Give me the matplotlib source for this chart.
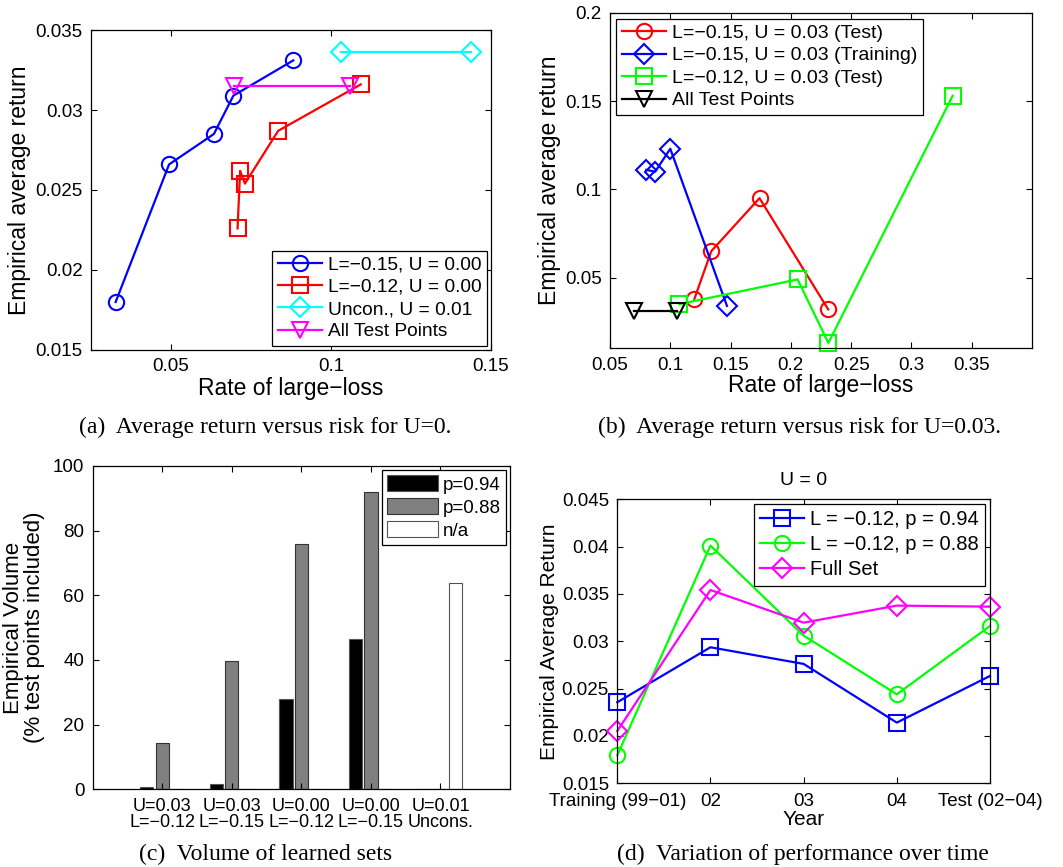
import numpy as np
import matplotlib
matplotlib.use('Agg')
import matplotlib.pyplot as plt

plt.rcParams['font.family'] = ['Liberation Sans', 'DejaVu Sans']

# ---- panel (a): U = 0
a_blue_x = [0.0327, 0.0494, 0.0634, 0.0695, 0.0882]
a_blue_y = [0.0180, 0.0266, 0.0285, 0.0309, 0.0331]
a_red_x = [0.0708, 0.0716, 0.0731, 0.0835, 0.1093]
a_red_y = [0.0226, 0.0262, 0.0254, 0.0287, 0.0316]
a_cyan_x = [0.1030, 0.1437]
a_cyan_y = [0.0336, 0.0336]
a_mag_x = [0.0698, 0.1059]
a_mag_y = [0.0315, 0.0315]
a_labels = ['L=\u22120.15, U = 0.00', 'L=\u22120.12, U = 0.00',
            'Uncon., U = 0.01', 'All Test Points']

# ---- panel (b): U = 0.03
b_red_x = [0.120, 0.134, 0.174, 0.231]
b_red_y = [0.038, 0.065, 0.095, 0.032]
b_blue_x = [0.080, 0.0875, 0.100, 0.147]
b_blue_y = [0.111, 0.110, 0.123, 0.034]
b_green_x = [0.1075, 0.2056, 0.2311, 0.3342]
b_green_y = [0.035, 0.049, 0.013, 0.153]
b_black_x = [0.070, 0.1056]
b_black_y = [0.031, 0.031]
b_labels = ['L=\u22120.15, U = 0.03 (Test)', 'L=\u22120.15, U = 0.03 (Training)',
            'L=\u22120.12, U = 0.03 (Test)', 'All Test Points']

# ---- panel (c): volume of learned sets
c_groups = ['U=0.03\nL=\u22120.12', 'U=0.03\nL=\u22120.15', 'U=0.00\nL=\u22120.12',
            'U=0.00\nL=\u22120.15', 'U=0.01\nUncons.']
c_p94 = [0.6, 1.5, 27.8, 46.5, 0]
c_p88 = [14.2, 39.7, 75.9, 92.0, 0]
c_na = [0, 0, 0, 0, 63.9]
c_labels = ['p=0.94', 'p=0.88', 'n/a']

# ---- panel (d): performance over time
d_years = ['Training (99\u221201)', '02', '03', '04', 'Test (02\u221204)']
d_p94 = [0.02356, 0.02937, 0.02761, 0.02141, 0.02634]
d_p88 = [0.01796, 0.04011, 0.0306, 0.0244, 0.03162]
d_full = [0.02053, 0.03542, 0.03197, 0.03377, 0.03366]
d_labels = ['L = \u22120.12, p = 0.94', 'L = \u22120.12, p = 0.88', 'Full Set']

W, H = 1063, 867
fig = plt.figure(figsize=(W / 100, H / 100), dpi=100)


def box(l, t, r, b):
    return [l / W, (H - b) / H, (r - l) / W, (b - t) / H]


def style(ax):
    ax.tick_params(direction='in', top=True, right=True, length=4.5,
                   width=0.8, labelsize=13.5, pad=6)
    for s in ax.spines.values():
        s.set_linewidth(0.9)


def legend(ax, loc, size, **kw):
    opts = dict(handlelength=2.3, borderpad=0.3, labelspacing=0.25, handletextpad=0.3,
                borderaxespad=0.3)
    opts.update(kw)
    leg = ax.legend(loc=loc, fontsize=size, fancybox=False, edgecolor='k',
                    framealpha=1, **opts)
    leg.get_frame().set_linewidth(0.9)
    return leg


def caption(x, y, s):
    fig.text(x / W, 1 - y / H, s, family='Liberation Serif', fontsize=17,
             ha='center', va='center')


lw, ms, mew = 1.6, 11, 1.5
kw = dict(mfc='none', lw=lw, mew=mew, clip_on=False)

# (a)
ax = fig.add_axes(box(91, 30, 491, 350))
ax.plot(a_blue_x, a_blue_y, 'o-', color='b', ms=ms, label=a_labels[0], **kw)
ax.plot(a_red_x, a_red_y, 's-', color='r', ms=ms, label=a_labels[1], **kw)
ax.plot(a_cyan_x, a_cyan_y, 'D-', color='#00ffff', ms=ms - 1, label=a_labels[2], **kw)
ax.plot(a_mag_x, a_mag_y, 'v-', color='#ff00ff', ms=ms, label=a_labels[3], **kw)
ax.set_xlim(0.025, 0.15)
ax.set_ylim(0.015, 0.035)
ax.set_xticks([0.05, 0.1, 0.15])
ax.set_xticklabels(['0.05', '0.1', '0.15'])
ax.set_yticks([0.015, 0.02, 0.025, 0.03, 0.035])
ax.set_yticklabels(['0.015', '0.02', '0.025', '0.03', '0.035'])
ax.set_xlabel('Rate of large\u2212loss', fontsize=16.5, labelpad=1)
ax.set_ylabel('Empirical average return', fontsize=16.5, labelpad=3)
style(ax)
legend(ax, 'lower right', 13.8, borderaxespad=0.2)
caption(265, 427, '(a)  Average return versus risk for U=0.')

# (b)
ax = fig.add_axes(box(610, 12.7, 1032, 348.3))
ax.plot(b_red_x, b_red_y, 'o-', color='r', ms=ms, label=b_labels[0], **kw)
ax.plot(b_blue_x, b_blue_y, 'D-', color='b', ms=ms - 1, label=b_labels[1], **kw)
ax.plot(b_green_x, b_green_y, 's-', color='#00ff00', ms=ms, label=b_labels[2], **kw)
ax.plot(b_black_x, b_black_y, 'v-', color='k', ms=ms, label=b_labels[3], **kw)
ax.set_xlim(0.05, 0.4)
ax.set_ylim(0.01, 0.2)
ax.set_xticks([0.05, 0.1, 0.15, 0.2, 0.25, 0.3, 0.35])
ax.set_xticklabels(['0.05', '0.1', '0.15', '0.2', '0.25', '0.3', '0.35'])
ax.set_yticks([0.05, 0.1, 0.15, 0.2])
ax.set_yticklabels(['0.05', '0.1', '0.15', '0.2'])
ax.set_xlabel('Rate of large\u2212loss', fontsize=16.5, labelpad=0)
ax.set_ylabel('Empirical average return', fontsize=16.5, labelpad=3)
style(ax)
legend(ax, 'upper left', 14)
caption(800, 427, '(b)  Average return versus risk for U=0.03.')

# (c)
ax = fig.add_axes(box(92.7, 466, 510, 789.3))
xpos = np.arange(1, len(c_groups) + 1)
bw = 0.19
ax.bar(xpos - 0.222, c_p94, bw, color='k', edgecolor='#555555', lw=0.8, label=c_labels[0])
ax.bar(xpos, c_p88, bw, color='#808080', edgecolor='#333333', lw=0.8, label=c_labels[1])
ax.bar(xpos + 0.222, c_na, bw, color='w', edgecolor='#555555', lw=0.8, label=c_labels[2])
ax.set_xlim(0, 6)
ax.set_ylim(0, 100)
ax.set_xticks(xpos)
ax.set_xticklabels(c_groups, linespacing=0.95)
ax.set_yticks([0, 20, 40, 60, 80, 100])
ax.set_ylabel('Empirical Volume\n(% test points included)', fontsize=16, labelpad=6,
              linespacing=1.0)
style(ax)
ax.tick_params(axis='x', labelsize=13)
legend(ax, 'upper right', 13.5, handlelength=2.7, handleheight=0.9, borderpad=0.3,
       handletextpad=0.25, borderaxespad=0.2)
caption(266, 854, '(c)  Volume of learned sets')

# (d)
ax = fig.add_axes(box(617.3, 499.3, 990, 783.3))
xd = np.arange(1, len(d_years) + 1)
ax.plot(xd, d_p94, 's-', color='b', ms=ms, label=d_labels[0], **kw)
ax.plot(xd, d_p88, 'o-', color='#00ff00', ms=ms, label=d_labels[1], **kw)
ax.plot(xd, d_full, 'D-', color='#ff00ff', ms=ms - 1, label=d_labels[2], **kw)
ax.set_xlim(1, 5)
ax.set_ylim(0.015, 0.045)
ax.set_xticks(xd)
ax.set_xticklabels(d_years)
ax.set_yticks([0.015, 0.02, 0.025, 0.03, 0.035, 0.04, 0.045])
ax.set_yticklabels(['0.015', '0.02', '0.025', '0.03', '0.035', '0.04', '0.045'])
ax.set_xlabel('Year', fontsize=15, labelpad=0)
ax.set_ylabel('Empirical Average Return', fontsize=15, labelpad=2)
ax.set_title('U = 0', fontsize=14, pad=10)
style(ax)
ax.tick_params(axis='x', pad=7)
legend(ax, 'upper right', 14.5, handlelength=2.2, borderpad=0.3, labelspacing=0.3,
       borderaxespad=0.25)
caption(803, 854, '(d)  Variation of performance over time')

fig.savefig('out.png', dpi=100)
